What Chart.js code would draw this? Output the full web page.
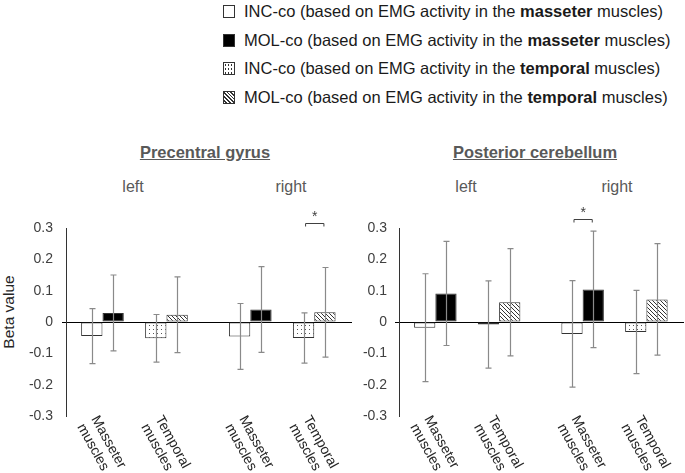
<!DOCTYPE html>
<html>
<head>
<meta charset="utf-8">
<script src="https://cdn.jsdelivr.net/npm/chart.js@4.4.1/dist/chart.umd.min.js"></script>
<style>
  body { margin: 0; width: 685px; height: 473px; position: relative; overflow: hidden; background: #fff;
         font-family: "Liberation Sans", Arial, sans-serif; }
  .row { position: absolute; left: 223px; height: 20px; line-height: 20px; font-size: 16.5px; color: #1a1a1a; white-space: nowrap; }
  .sw { display: inline-block; width: 10px; height: 11px; border: 1px solid #333; vertical-align: -1px; margin-right: 9px; box-sizing: content-box; }
  .sw1 { background: #fff; }
  .sw2 { background: #000; }
  .sw3 { background-color: #fff; background-image: radial-gradient(circle, #333 0.7px, transparent 1.1px); background-size: 3px 4px; }
  .sw4 { background: repeating-linear-gradient(45deg, #fff 0 1.4px, #333 1.4px 2.6px); }
  .title { position: absolute; top: 143px; font-size: 16.5px; font-weight: bold; color: #595959; text-decoration: underline; white-space: nowrap; transform: translateX(-50%); }
  .side { position: absolute; top: 178px; font-size: 16px; color: #595959; transform: translateX(-50%); }
  .ylab { position: absolute; left: 9px; top: 312px; font-size: 15.5px; color: #262626; white-space: nowrap; transform: translate(-50%, -50%) rotate(-90deg); }
  canvas { position: absolute; top: 0; }
</style>
</head>
<body>
<div class="row" style="top:1px"><span class="sw sw1"></span>INC-co (based on EMG activity in the <b>masseter</b> muscles)</div>
<div class="row" style="top:30px"><span class="sw sw2"></span>MOL-co (based on EMG activity in the <b>masseter</b> muscles)</div>
<div class="row" style="top:58px"><span class="sw sw3"></span>INC-co (based on EMG activity in the <b>temporal</b> muscles)</div>
<div class="row" style="top:87px"><span class="sw sw4"></span>MOL-co (based on EMG activity in the <b>temporal</b> muscles)</div>

<div class="title" style="left:205px">Precentral gyrus</div>
<div class="title" style="left:535px">Posterior cerebellum</div>
<div class="side" style="left:133px">left</div>
<div class="side" style="left:291px">right</div>
<div class="side" style="left:466px">left</div>
<div class="side" style="left:617px">right</div>
<div class="ylab">Beta value</div>

<canvas id="chart1" width="355" height="473" style="left:0"></canvas>
<canvas id="chart2" width="345" height="473" style="left:340px"></canvas>

<script>
// categories: left masseter, left temporal, right masseter, right temporal
const muscleLabels = [["Masseter", "muscles"], ["Temporal", "muscles"]];
const xPos = [1, 2, 3.31, 4.31];
const yTicks = [-0.3, -0.2, -0.1, 0, 0.1, 0.2, 0.3];

// Precentral gyrus
const pgIncMean = [-0.045, -0.052, -0.046, -0.051];
const pgIncErr  = [0.088, 0.076, 0.105, 0.080];
const pgMolMean = [0.029, 0.023, 0.040, 0.031];
const pgMolErr  = [0.121, 0.121, 0.137, 0.143];
const pgSig = { cat: 3, y: 0.317 };

// Posterior cerebellum
const pcIncMean = [-0.018, -0.008, -0.038, -0.032];
const pcIncErr  = [0.172, 0.139, 0.170, 0.133];
const pcMolMean = [0.091, 0.063, 0.104, 0.072];
const pcMolErr  = [0.166, 0.171, 0.186, 0.178];
const pcSig = { cat: 2, y: 0.33 };

Chart.defaults.font.family = '"Liberation Sans", Arial, sans-serif';

function makePattern(kind) {
  const c = document.createElement('canvas');
  c.width = 4; c.height = 4;
  const g = c.getContext('2d');
  g.fillStyle = '#fff';
  g.fillRect(0, 0, 4, 4);
  if (kind === 'dots') {
    g.fillStyle = '#555';
    g.fillRect(1, 1, 1, 1);
  } else {
    g.strokeStyle = '#333';
    g.lineWidth = 1;
    g.beginPath();
    g.moveTo(-1, -1); g.lineTo(5, 5);
    g.moveTo(-1, 3); g.lineTo(1, 5);
    g.moveTo(3, -1); g.lineTo(5, 1);
    g.stroke();
  }
  return g.createPattern(c, 'repeat');
}
const dotFill = makePattern('dots');
const hatchFill = makePattern('hatch');

// pick values for one muscle (0 masseter, 1 temporal) from the 4-category arrays
function points(mean, err, muscle) {
  const out = [];
  for (let i = 0; i < mean.length; i++) {
    if (i % 2 === muscle) out.push({ x: xPos[i], y: mean[i], err: err[i] });
  }
  return out;
}

const errorBars = {
  id: 'errorBars',
  afterDatasetsDraw(chart) {
    const { ctx, scales: { y } } = chart;
    ctx.save();
    ctx.strokeStyle = '#8a8a8a';
    ctx.lineWidth = 1.2;
    chart.data.datasets.forEach((ds, di) => {
      const meta = chart.getDatasetMeta(di);
      meta.data.forEach((bar, k) => {
        const p = ds.data[k];
        const x = Math.round(bar.x) + 0.5;
        const t = y.getPixelForValue(p.y + p.err);
        const b = y.getPixelForValue(p.y - p.err);
        ctx.beginPath();
        ctx.moveTo(x, t); ctx.lineTo(x, b);
        ctx.moveTo(x - 3, t); ctx.lineTo(x + 3, t);
        ctx.moveTo(x - 3, b); ctx.lineTo(x + 3, b);
        ctx.stroke();
      });
    });
    ctx.restore();
  }
};

const sigBracket = {
  id: 'sigBracket',
  afterDatasetsDraw(chart, args, opts) {
    if (opts.cat === undefined) return;
    const { ctx, scales: { y } } = chart;
    const muscle = opts.cat % 2, side = Math.floor(opts.cat / 2);
    const a = chart.getDatasetMeta(muscle * 2).data[side];
    const b = chart.getDatasetMeta(muscle * 2 + 1).data[side];
    const yy = Math.round(y.getPixelForValue(opts.y)) + 0.5;
    const x1 = a.x + 2, x2 = b.x - 1;
    ctx.save();
    ctx.strokeStyle = '#404040';
    ctx.lineWidth = 1;
    ctx.beginPath();
    ctx.moveTo(x1, yy + 3); ctx.lineTo(x1, yy); ctx.lineTo(x2, yy); ctx.lineTo(x2, yy + 3);
    ctx.stroke();
    ctx.fillStyle = '#404040';
    ctx.font = '14px "Liberation Sans", Arial, sans-serif';
    ctx.textAlign = 'center';
    ctx.textBaseline = 'middle';
    ctx.fillText('*', (x1 + x2) / 2, yy - 6);
    ctx.restore();
  }
};

const rotatedLabels = {
  id: 'rotatedLabels',
  afterDraw(chart) {
    const { ctx, chartArea, scales: { x } } = chart;
    const a = 61 * Math.PI / 180;
    ctx.save();
    ctx.font = '14px "Liberation Sans", Arial, sans-serif';
    ctx.fillStyle = '#262626';
    ctx.textAlign = 'left';
    ctx.textBaseline = 'middle';
    xPos.forEach((v, i) => {
      const px = x.getPixelForValue(v);
      muscleLabels[i % 2].forEach((line, j) => {
        ctx.save();
        ctx.translate(px - 8 - j * 16 * Math.sin(a), chartArea.bottom + 1 + j * 16 * Math.cos(a));
        ctx.rotate(a);
        ctx.fillText(line, 0, 0);
        ctx.restore();
      });
    });
    ctx.restore();
  }
};

function makeChart(id, incMean, incErr, molMean, molErr, sig, axisWidth, tickPad, padRight) {
  const base = { borderColor: '#333', borderWidth: 1, borderSkipped: false,
                 categoryPercentage: 0.667, barPercentage: 1 };
  return new Chart(id, {
    type: 'bar',
    data: {
      datasets: [
        { ...base, label: 'INC-co masseter', data: points(incMean, incErr, 0), backgroundColor: '#fff' },
        { ...base, label: 'MOL-co masseter', data: points(molMean, molErr, 0), backgroundColor: '#000' },
        { ...base, label: 'INC-co temporal', data: points(incMean, incErr, 1), backgroundColor: dotFill },
        { ...base, label: 'MOL-co temporal', data: points(molMean, molErr, 1), backgroundColor: hatchFill }
      ]
    },
    options: {
      responsive: false,
      animation: false,
      skipNull: true,
      layout: { padding: { top: 228, bottom: 0, left: 0, right: padRight } },
      plugins: { legend: { display: false }, tooltip: { enabled: false }, sigBracket: sig },
      scales: {
        x: {
          type: 'linear', min: 0.43, max: 4.9, offset: false,
          afterBuildTicks: s => { s.ticks = xPos.map(v => ({ value: v, label: '' })); },
          afterFit: s => { s.height = 57; },
          ticks: { display: false },
          grid: { display: false },
          border: { display: false }
        },
        y: {
          min: -0.3, max: 0.3,
          afterBuildTicks: s => { s.ticks = yTicks.map(v => ({ value: v })); },
          afterFit: s => { s.width = axisWidth; },
          ticks: { color: '#404040', font: { size: 14 }, padding: tickPad,
                   callback: v => String(Math.round(v * 10) / 10) },
          grid: {
            drawTicks: true, tickLength: 4, lineWidth: 1,
            color: c => (Math.abs(c.tick.value) < 1e-9 ? '#000' : 'rgba(0,0,0,0)')
          },
          border: { display: true, color: '#333', width: 1 }
        }
      }
    },
    plugins: [errorBars, sigBracket, rotatedLabels]
  });
}

makeChart('chart1', pgIncMean, pgIncErr, pgMolMean, pgMolErr, pgSig, 66, 9, 3);
makeChart('chart2', pcIncMean, pcIncErr, pcMolMean, pcMolErr, pcSig, 59, 8, 1);
</script>
</body>
</html>
